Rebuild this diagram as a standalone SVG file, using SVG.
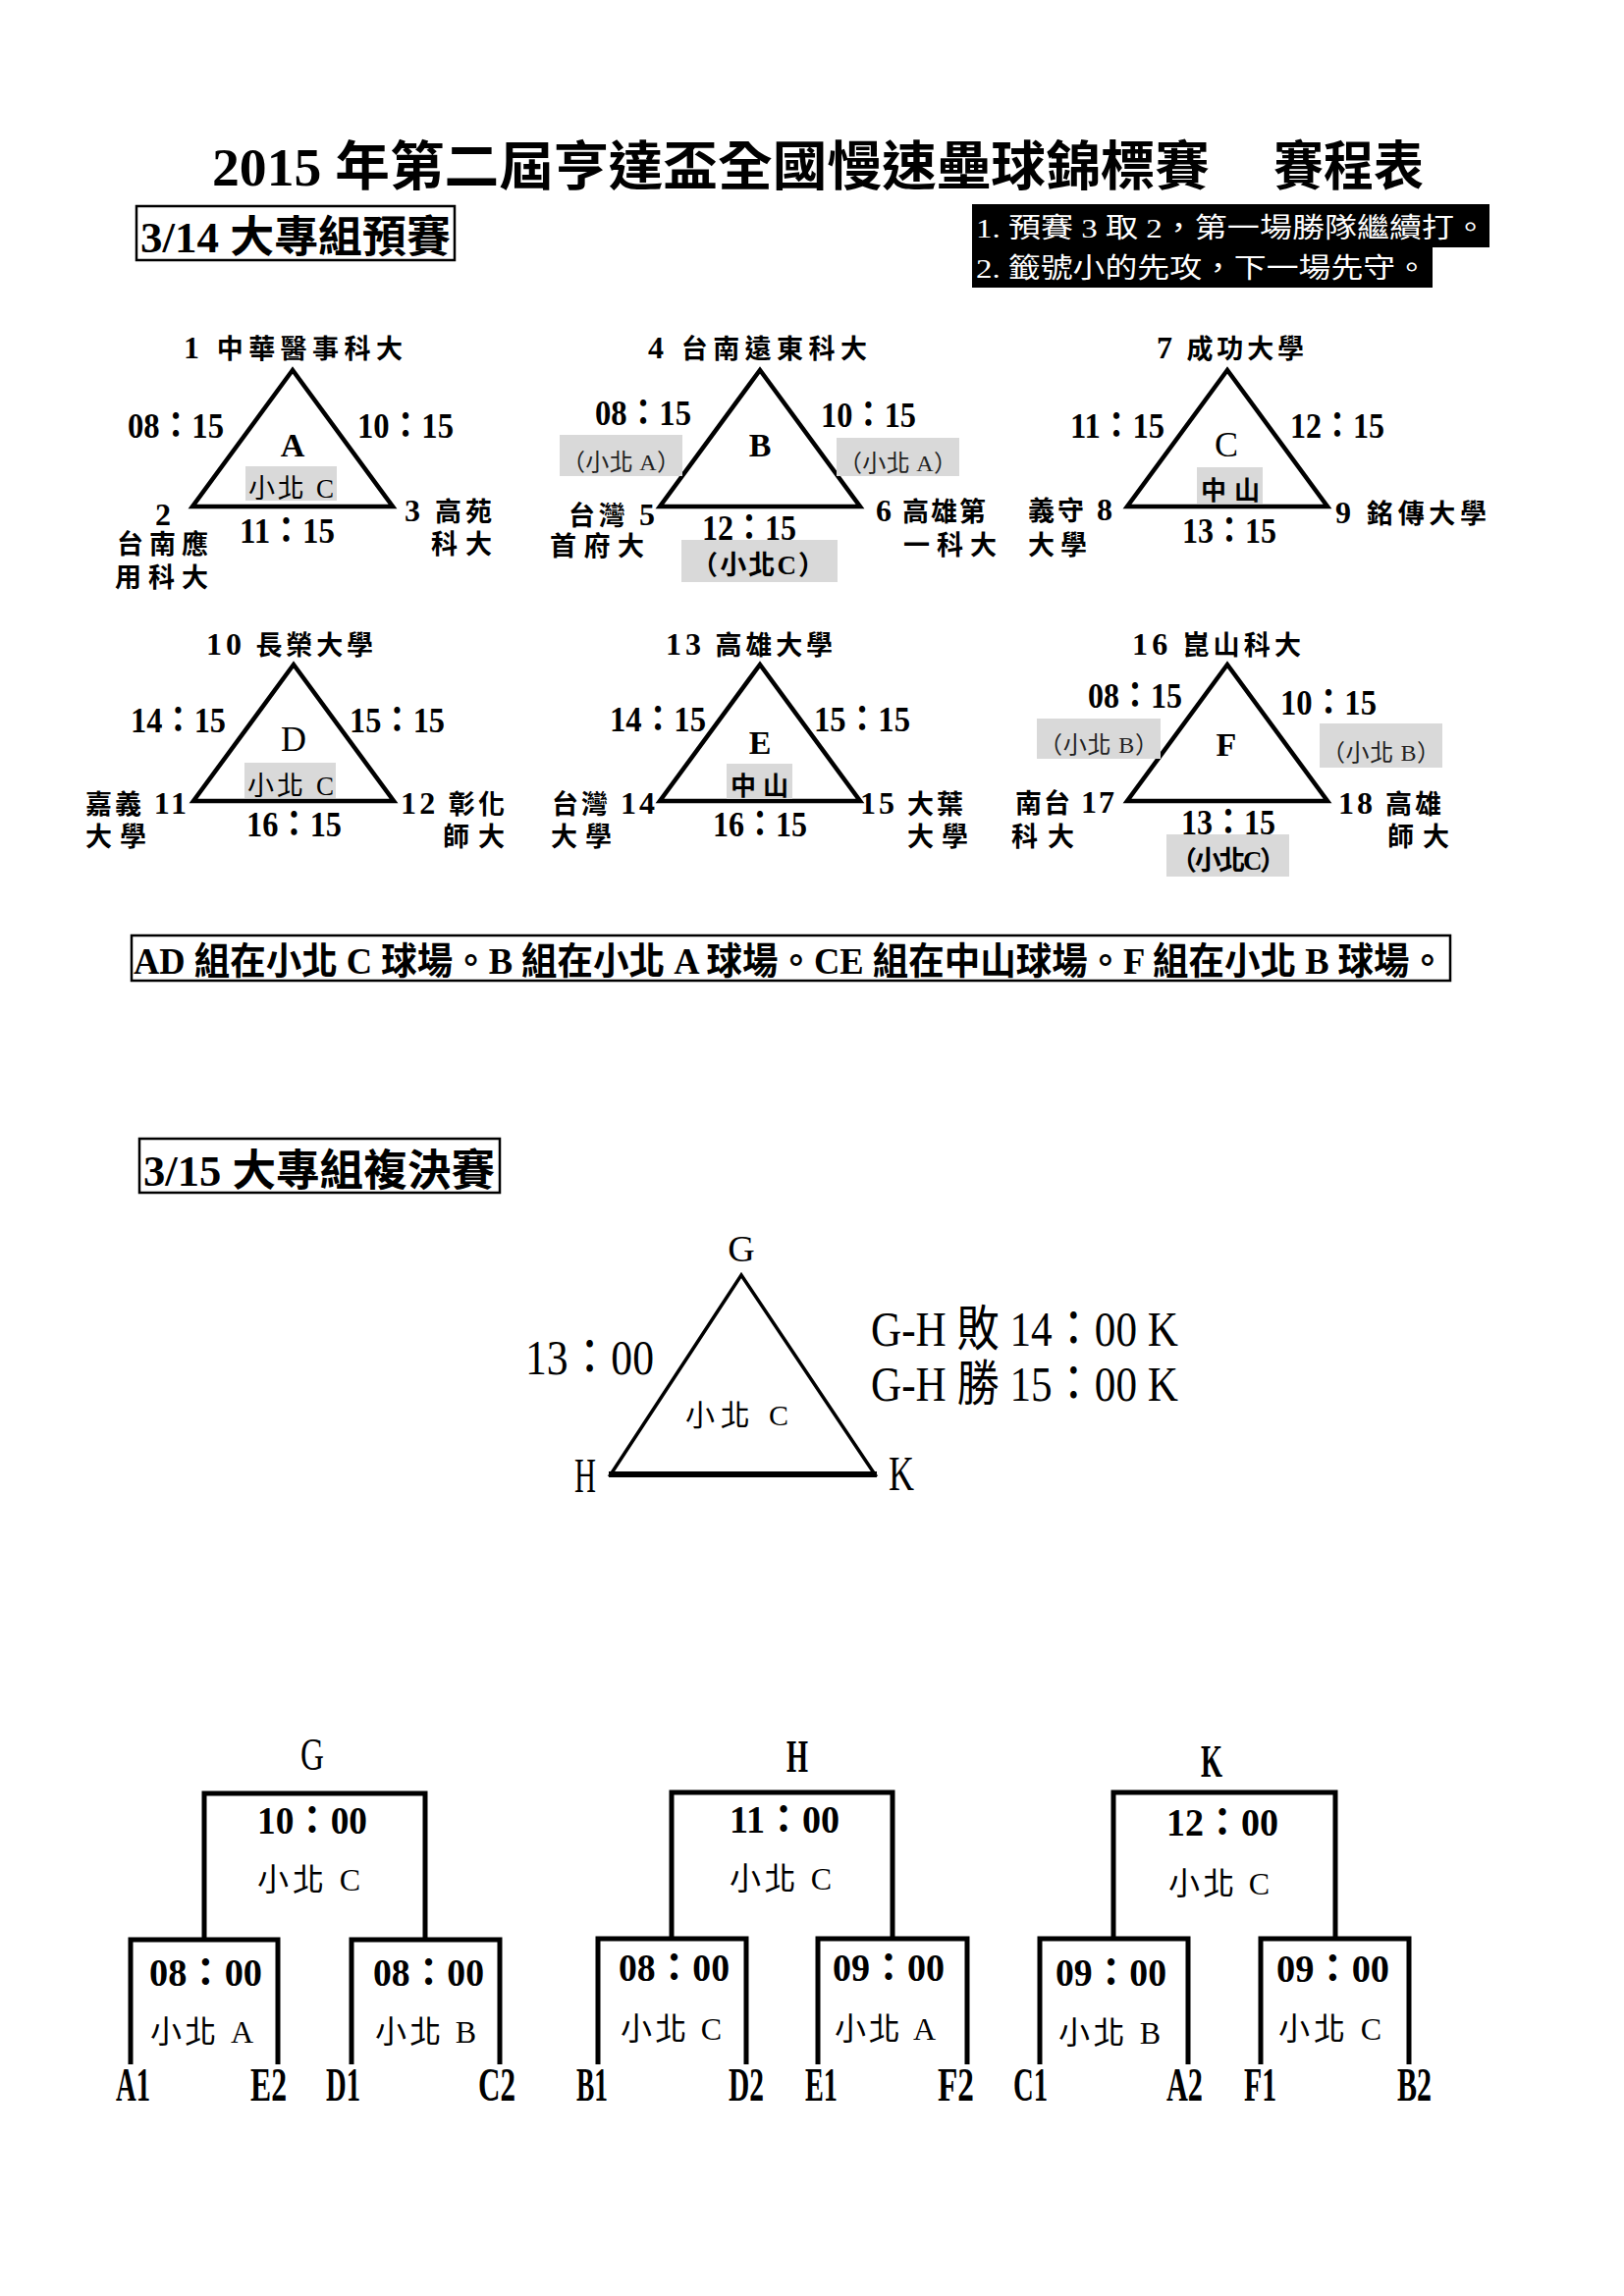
<svg xmlns="http://www.w3.org/2000/svg" width="1654" height="2339" viewBox="0 0 1654 2339">
<style>
text{font-family:"Liberation Serif","Noto Sans CJK TC",serif;fill:#000}
.ttl{font-size:54px;font-weight:bold}
.hd{font-size:44px;font-weight:bold}
.nt{font-size:28px;fill:#fff}
.tm{font-size:27px;font-weight:bold}
.n{font-size:32px}
.t{font-size:36px;font-weight:bold}
.g{font-size:34px;font-weight:bold}
.gn{font-size:36px;font-weight:normal}
.v{font-size:27px}
.vp{font-size:24px;fill:#222}
.vb{font-size:27px;font-weight:bold}
.zs{font-size:26px;font-weight:bold}
.ft{font-size:38px;font-weight:bold}
.big{font-size:50px}
.bt{font-size:40px;font-weight:bold}
.bv{font-size:32px}
.lb{font-size:48px;font-weight:bold}
.tri{fill:none;stroke:#000;stroke-width:4.5;stroke-linejoin:miter}
.box{fill:none;stroke:#000;stroke-width:2.5}
.gray{fill:#d9d9d9}
.br{fill:none;stroke:#000;stroke-width:5;stroke-linejoin:miter}
</style>
<rect width="1654" height="2339" fill="#fff"/>

<g id="title">
<text class="ttl" x="216" y="189" textLength="1016" lengthAdjust="spacingAndGlyphs">2015 年第二屆亨達盃全國慢速壘球錦標賽</text>
<text class="ttl" x="1297" y="189" textLength="153" lengthAdjust="spacingAndGlyphs">賽程表</text>
</g>

<g id="header-314">
<rect class="box" x="139" y="210" width="324" height="55"/>
<text class="hd" x="143" y="257" textLength="316" lengthAdjust="spacingAndGlyphs">3/14 大專組預賽</text>
</g>

<g id="notes">
<rect x="990" y="208" width="527" height="44" fill="#000"/>
<rect x="990" y="252" width="469" height="41" fill="#000"/>
<text class="nt" x="994" y="242" textLength="520" lengthAdjust="spacingAndGlyphs">1. 預賽 3 取 2，第一場勝隊繼續打。</text>
<text class="nt" x="994" y="283" textLength="460" lengthAdjust="spacingAndGlyphs">2. 籤號小的先攻，下一場先守。</text>
</g>

<g id="group-A">
<polygon class="tri" points="298,377 196,516 400,516"/>
<text class="tm" x="187" y="365" textLength="223" lengthAdjust="spacing"><tspan class="n">1</tspan> 中華醫事科大</text>
<text class="t" x="130" y="446" textLength="98" lengthAdjust="spacingAndGlyphs">08：15</text>
<text class="t" x="364" y="446" textLength="98" lengthAdjust="spacingAndGlyphs">10：15</text>
<text class="g" x="298" y="465" text-anchor="middle">A</text>
<rect class="gray" x="250" y="475" width="93" height="35"/>
<text class="v" x="253" y="507" textLength="87" lengthAdjust="spacing">小北 C</text>
<text class="t" x="244" y="553" textLength="97" lengthAdjust="spacingAndGlyphs">11：15</text>
<text class="tm n" x="166" y="535" text-anchor="middle">2</text>
<text class="tm" x="119" y="564" textLength="93" lengthAdjust="spacing">台南應</text>
<text class="tm" x="117" y="598" textLength="95" lengthAdjust="spacing">用科大</text>
<text class="tm" x="412" y="531" textLength="89" lengthAdjust="spacing"><tspan class="n">3</tspan> 高苑</text>
<text class="tm" x="439" y="564" textLength="62" lengthAdjust="spacing">科大</text>
</g>

<g id="group-B">
<polygon class="tri" points="774,377 672,516 876,516"/>
<text class="tm" x="660" y="365" textLength="223" lengthAdjust="spacing"><tspan class="n">4</tspan> 台南遠東科大</text>
<text class="t" x="606" y="433" textLength="98" lengthAdjust="spacingAndGlyphs">08：15</text>
<rect class="gray" x="570" y="443" width="125" height="42"/>
<text class="vp" x="572" y="479" textLength="121" lengthAdjust="spacing">（小北 A）</text>
<text class="g" x="774" y="465" text-anchor="middle">B</text>
<text class="t" x="836" y="435" textLength="97" lengthAdjust="spacingAndGlyphs">10：15</text>
<rect class="gray" x="852" y="446" width="125" height="39"/>
<text class="vp" x="854" y="480" textLength="121" lengthAdjust="spacing">（小北 A）</text>
<text class="tm" x="579" y="535" textLength="88" lengthAdjust="spacing">台灣 <tspan class="n">5</tspan></text>
<text class="tm" x="560" y="566" textLength="96" lengthAdjust="spacing">首府大</text>
<text class="t" x="715" y="550" textLength="96" lengthAdjust="spacingAndGlyphs">12：15</text>
<rect class="gray" x="694" y="550" width="159" height="43"/>
<text class="vb" x="704" y="585" textLength="136" lengthAdjust="spacing">（小北C）</text>
<text class="tm" x="892" y="531" textLength="112" lengthAdjust="spacing"><tspan class="n">6</tspan> 高雄第</text>
<text class="tm" x="920" y="565" textLength="95" lengthAdjust="spacing">一科大</text>
</g>

<g id="group-C">
<polygon class="tri" points="1250,377 1148,516 1352,516"/>
<text class="tm" x="1178" y="365" textLength="150" lengthAdjust="spacing"><tspan class="n">7</tspan> 成功大學</text>
<text class="t" x="1090" y="446" textLength="96" lengthAdjust="spacingAndGlyphs">11：15</text>
<text class="t" x="1314" y="446" textLength="96" lengthAdjust="spacingAndGlyphs">12：15</text>
<text class="gn" x="1249" y="465" text-anchor="middle">C</text>
<rect class="gray" x="1219" y="476" width="67" height="37"/>
<text class="zs" x="1223" y="509" textLength="60" lengthAdjust="spacing">中山</text>
<text class="tm" x="1047" y="530" textLength="86" lengthAdjust="spacing">義守 <tspan class="n">8</tspan></text>
<text class="tm" x="1047" y="565" textLength="60" lengthAdjust="spacing">大學</text>
<text class="t" x="1204" y="553" textLength="96" lengthAdjust="spacingAndGlyphs">13：15</text>
<text class="tm" x="1360" y="533" textLength="154" lengthAdjust="spacing"><tspan class="n">9</tspan> 銘傳大學</text>
</g>

<g id="group-D">
<polygon class="tri" points="299,677 197,816 401,816"/>
<text class="tm" x="210" y="667" textLength="170" lengthAdjust="spacing"><tspan class="n">10</tspan> 長榮大學</text>
<text class="t" x="133" y="746" textLength="97" lengthAdjust="spacingAndGlyphs">14：15</text>
<text class="t" x="356" y="746" textLength="97" lengthAdjust="spacingAndGlyphs">15：15</text>
<text class="gn" x="299" y="765" text-anchor="middle">D</text>
<rect class="gray" x="249" y="777" width="93" height="36"/>
<text class="v" x="252" y="810" textLength="88" lengthAdjust="spacing">小北 C</text>
<text class="tm" x="87" y="829" textLength="103" lengthAdjust="spacing">嘉義 <tspan class="n">11</tspan></text>
<text class="tm" x="87" y="862" textLength="62" lengthAdjust="spacing">大學</text>
<text class="t" x="251" y="852" textLength="97" lengthAdjust="spacingAndGlyphs">16：15</text>
<text class="tm" x="408" y="829" textLength="106" lengthAdjust="spacing"><tspan class="n">12</tspan> 彰化</text>
<text class="tm" x="451" y="862" textLength="63" lengthAdjust="spacing">師大</text>
</g>

<g id="group-E">
<polygon class="tri" points="774,677 672,816 876,816"/>
<text class="tm" x="678" y="667" textLength="170" lengthAdjust="spacing"><tspan class="n">13</tspan> 高雄大學</text>
<text class="t" x="621" y="745" textLength="98" lengthAdjust="spacingAndGlyphs">14：15</text>
<text class="t" x="829" y="745" textLength="98" lengthAdjust="spacingAndGlyphs">15：15</text>
<text class="g" x="774" y="768" text-anchor="middle">E</text>
<rect class="gray" x="740" y="778" width="67" height="36"/>
<text class="zs" x="744" y="810" textLength="59" lengthAdjust="spacing">中山</text>
<text class="tm" x="562" y="829" textLength="105" lengthAdjust="spacing">台灣 <tspan class="n">14</tspan></text>
<text class="tm" x="561" y="862" textLength="62" lengthAdjust="spacing">大學</text>
<text class="t" x="726" y="852" textLength="96" lengthAdjust="spacingAndGlyphs">16：15</text>
<text class="tm" x="876" y="829" textLength="105" lengthAdjust="spacing"><tspan class="n">15</tspan> 大葉</text>
<text class="tm" x="924" y="862" textLength="62" lengthAdjust="spacing">大學</text>
</g>

<g id="group-F">
<polygon class="tri" points="1250,677 1148,816 1352,816"/>
<text class="tm" x="1153" y="667" textLength="172" lengthAdjust="spacing"><tspan class="n">16</tspan> 崑山科大</text>
<text class="t" x="1108" y="721" textLength="96" lengthAdjust="spacingAndGlyphs">08：15</text>
<rect class="gray" x="1056" y="732" width="126" height="41"/>
<text class="vp" x="1058" y="767" textLength="122" lengthAdjust="spacing">（小北 B）</text>
<text class="t" x="1304" y="728" textLength="98" lengthAdjust="spacingAndGlyphs">10：15</text>
<rect class="gray" x="1344" y="737" width="125" height="45"/>
<text class="vp" x="1346" y="775" textLength="121" lengthAdjust="spacing">（小北 B）</text>
<text class="g" x="1249" y="770" text-anchor="middle">F</text>
<text class="tm" x="1034" y="828" textLength="101" lengthAdjust="spacing">南台 <tspan class="n">17</tspan></text>
<text class="tm" x="1030" y="862" textLength="64" lengthAdjust="spacing">科大</text>
<text class="t" x="1203" y="850" textLength="96" lengthAdjust="spacingAndGlyphs">13：15</text>
<rect class="gray" x="1188" y="850" width="125" height="43"/>
<text class="vb" x="1192" y="886" textLength="118" lengthAdjust="spacing">（小北C）</text>
<text class="tm" x="1363" y="829" textLength="105" lengthAdjust="spacing"><tspan class="n">18</tspan> 高雄</text>
<text class="tm" x="1413" y="862" textLength="63" lengthAdjust="spacing">師大</text>
</g>

<g id="venue-note">
<rect class="box" x="134" y="953" width="1343" height="46"/>
<text class="ft" x="136" y="992" textLength="1336" lengthAdjust="spacingAndGlyphs">AD 組在小北 C 球場。B 組在小北 A 球場。CE 組在中山球場。F 組在小北 B 球場。</text>
</g>

<g id="header-315">
<rect class="box" x="142" y="1160" width="367" height="55"/>
<text class="hd" x="146" y="1208" textLength="358" lengthAdjust="spacingAndGlyphs">3/15 大專組複決賽</text>
</g>

<g id="final-triangle">
<polygon points="755,1299 622,1502 891,1502" fill="none" stroke="#000" stroke-width="3.5"/>
<line x1="620" y1="1502" x2="893" y2="1502" stroke="#000" stroke-width="6"/>
<text x="755" y="1285" text-anchor="middle" style="font-size:38px">G</text>
<text class="big" x="535" y="1400" textLength="131" lengthAdjust="spacingAndGlyphs">13：00</text>
<text class="big" x="887" y="1371" textLength="313" lengthAdjust="spacingAndGlyphs">G-H 敗 14：00 K</text>
<text class="big" x="887" y="1427" textLength="313" lengthAdjust="spacingAndGlyphs">G-H 勝 15：00 K</text>
<text x="698" y="1452" textLength="105" lengthAdjust="spacing" style="font-size:30px">小北 C</text>
<text class="big" x="596" y="1520" text-anchor="middle" textLength="22" lengthAdjust="spacingAndGlyphs">H</text>
<text class="big" x="918" y="1518" text-anchor="middle" textLength="26" lengthAdjust="spacingAndGlyphs">K</text>
</g>

<g id="bracket-G">
<text x="318" y="1803" text-anchor="middle" textLength="24" lengthAdjust="spacingAndGlyphs" style="font-size:46px">G</text>
<path class="br" d="M208,1974 V1827 H433 V1974"/>
<path class="br" d="M133,2103 V1976 H283 V2103"/>
<path class="br" d="M358,2103 V1976 H509 V2103"/>
<text class="bt" x="262" y="1868" textLength="112" lengthAdjust="spacingAndGlyphs">10：00</text>
<text class="bv" x="262" y="1926" textLength="105" lengthAdjust="spacing">小北 C</text>
<text class="bt" x="152" y="2023" textLength="115" lengthAdjust="spacingAndGlyphs">08：00</text>
<text class="bv" x="153" y="2081" textLength="105" lengthAdjust="spacing">小北 A</text>
<text class="bt" x="380" y="2023" textLength="113" lengthAdjust="spacingAndGlyphs">08：00</text>
<text class="bv" x="382" y="2081" textLength="103" lengthAdjust="spacing">小北 B</text>
<text class="lb" x="118" y="2140" textLength="35" lengthAdjust="spacingAndGlyphs">A1</text>
<text class="lb" x="255" y="2140" textLength="37" lengthAdjust="spacingAndGlyphs">E2</text>
<text class="lb" x="332" y="2140" textLength="35" lengthAdjust="spacingAndGlyphs">D1</text>
<text class="lb" x="487" y="2140" textLength="38" lengthAdjust="spacingAndGlyphs">C2</text>
</g>

<g id="bracket-H">
<text x="812" y="1805" text-anchor="middle" textLength="22" lengthAdjust="spacingAndGlyphs" style="font-size:46px;font-weight:bold">H</text>
<path class="br" d="M684,1974 V1826 H909 V1974"/>
<path class="br" d="M609,2103 V1975 H760 V2103"/>
<path class="br" d="M833,2103 V1975 H985 V2103"/>
<text class="bt" x="743" y="1867" textLength="112" lengthAdjust="spacingAndGlyphs">11：00</text>
<text class="bv" x="743" y="1925" textLength="104" lengthAdjust="spacing">小北 C</text>
<text class="bt" x="630" y="2018" textLength="113" lengthAdjust="spacingAndGlyphs">08：00</text>
<text class="bv" x="632" y="2078" textLength="103" lengthAdjust="spacing">小北 C</text>
<text class="bt" x="848" y="2018" textLength="114" lengthAdjust="spacingAndGlyphs">09：00</text>
<text class="bv" x="850" y="2078" textLength="103" lengthAdjust="spacing">小北 A</text>
<text class="lb" x="587" y="2140" textLength="32" lengthAdjust="spacingAndGlyphs">B1</text>
<text class="lb" x="742" y="2140" textLength="36" lengthAdjust="spacingAndGlyphs">D2</text>
<text class="lb" x="820" y="2140" textLength="33" lengthAdjust="spacingAndGlyphs">E1</text>
<text class="lb" x="955" y="2140" textLength="37" lengthAdjust="spacingAndGlyphs">F2</text>
</g>

<g id="bracket-K">
<text x="1234" y="1810" text-anchor="middle" textLength="22" lengthAdjust="spacingAndGlyphs" style="font-size:46px;font-weight:bold">K</text>
<path class="br" d="M1134,1974 V1826 H1360 V1974"/>
<path class="br" d="M1059,2103 V1975 H1210 V2103"/>
<path class="br" d="M1284,2103 V1975 H1435 V2103"/>
<text class="bt" x="1188" y="1870" textLength="114" lengthAdjust="spacingAndGlyphs">12：00</text>
<text class="bv" x="1190" y="1930" textLength="103" lengthAdjust="spacing">小北 C</text>
<text class="bt" x="1075" y="2023" textLength="113" lengthAdjust="spacingAndGlyphs">09：00</text>
<text class="bv" x="1078" y="2082" textLength="104" lengthAdjust="spacing">小北 B</text>
<text class="bt" x="1300" y="2019" textLength="115" lengthAdjust="spacingAndGlyphs">09：00</text>
<text class="bv" x="1302" y="2078" textLength="105" lengthAdjust="spacing">小北 C</text>
<text class="lb" x="1032" y="2140" textLength="35" lengthAdjust="spacingAndGlyphs">C1</text>
<text class="lb" x="1188" y="2140" textLength="37" lengthAdjust="spacingAndGlyphs">A2</text>
<text class="lb" x="1267" y="2140" textLength="33" lengthAdjust="spacingAndGlyphs">F1</text>
<text class="lb" x="1423" y="2140" textLength="35" lengthAdjust="spacingAndGlyphs">B2</text>
</g>
</svg>
